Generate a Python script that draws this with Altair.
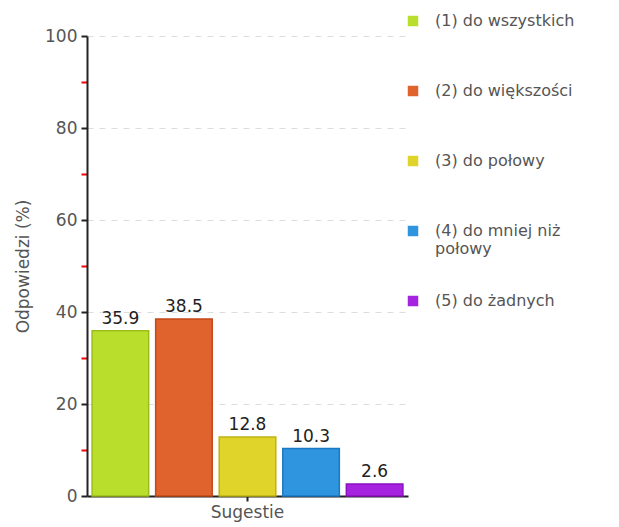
import altair as alt
import pandas as pd

categories = ["(1) do wszystkich", "(2) do większości", "(3) do połowy",
              "(4) do mniej niż połowy", "(5) do żadnych"]
values = [35.9, 38.5, 12.8, 10.3, 2.6]
fills = ["#bade2c", "#e0622d", "#e0d42b", "#2f95df", "#a623df"]
strokes = ["#9cbd18", "#c44a18", "#bfb312", "#1b78c2", "#8a12c0"]
group = "Sugestie"

df = pd.DataFrame({"cat": categories, "val": values, "grp": [group] * len(values),
                   "label": [f"{v:.1f}" for v in values]})

FONT = "DejaVu Sans"

x = alt.X("grp:N", title=None,
          scale=alt.Scale(paddingOuter=0, paddingInner=0),
          axis=alt.Axis(labelAngle=0, labelColor="#555", labelFontSize=17, labelFont=FONT,
                        domainColor="#222", domainWidth=2, tickColor="#222", tickSize=5,
                        tickWidth=2, labelPadding=3))
xo = alt.XOffset("cat:N", sort=categories,
                 scale=alt.Scale(paddingInner=0.11, paddingOuter=0.08))
y = alt.Y("val:Q", title="Odpowiedzi (%)",
          scale=alt.Scale(domain=[0, 100], nice=False),
          axis=alt.Axis(values=list(range(0, 101, 10)),
                        labelExpr="datum.value % 20 == 0 ? datum.label : ''",
                        labelColor="#555", labelFontSize=17, labelFont=FONT,
                        titleColor="#555", titleFontSize=17, titleFont=FONT,
                        titleFontWeight="normal", titlePadding=12,
                        domainColor="#222", domainWidth=2,
                        tickColor={"condition": {"test": "datum.value % 20 != 0", "value": "#ff0000"},
                                   "value": "#222"},
                        tickSize=6, tickWidth=2,
                        grid=True,
                        gridColor={"condition": {"test": "datum.value % 20 != 0 || datum.value == 0",
                                                 "value": "transparent"},
                                   "value": "#dddddd"},
                        gridDash=[6, 6], gridWidth=1, labelPadding=4))

bars = alt.Chart(df).mark_bar(strokeWidth=1.5).encode(
    x=x, xOffset=xo, y=y,
    color=alt.Color("cat:N", sort=categories,
                    scale=alt.Scale(domain=categories, range=fills),
                    legend=alt.Legend(title=None, orient="none", legendX=318, legendY=-23,
                                      symbolType="square", symbolSize=110,
                                      symbolStrokeWidth=0, labelFont=FONT, labelFontSize=16,
                                      labelColor="#555", rowPadding=36, padding=0,
                                      gridAlign="all",
                                      labelOffset=14, labelLimit=300,
                                      labelExpr="datum.label == '(4) do mniej niż połowy' ? [' (4) do mniej niż', 'połowy'] : ' ' + datum.label")),
    stroke=alt.Stroke("cat:N", sort=categories,
                      scale=alt.Scale(domain=categories, range=strokes), legend=None),
)

texts = alt.Chart(df).mark_text(dy=-12, font=FONT, fontSize=17, color="#222").encode(
    x=x, xOffset=xo, y=y, text="label:N")

chart = (bars + texts).properties(
    width=321, height=460,
    autosize=alt.AutoSizeParams(type="none"),
    padding={"left": 79, "top": 28, "right": 190, "bottom": 30},
).configure_view(stroke=None)

chart.save("out.html", embed_options={"renderer": "svg", "actions": False})
